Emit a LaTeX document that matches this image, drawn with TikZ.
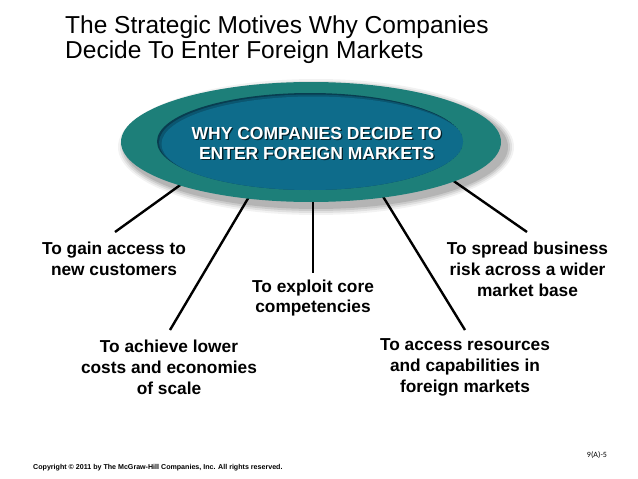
\documentclass[tikz,border=0pt]{standalone}
\usepackage{fontspec}
\setmainfont{Liberation Sans}
\newfontfamily\carl{Carlito}
\definecolor{outerteal}{HTML}{1D7F79}
\definecolor{innerblue}{HTML}{0E6C8B}
\definecolor{innerdark}{HTML}{083D50}
\tikzset{
  spoke/.style={line width=2.4pt, black},
  lbl/.style={align=center, inner sep=0pt, font=\bfseries\fontsize{17.3}{21}\selectfont},
  ttl/.style={anchor=base west, inner sep=0pt, font=\fontsize{24.5}{29}\selectfont},
  hubtxt/.style={align=center, inner sep=0pt, font=\bfseries\fontsize{17.5}{20}\selectfont}
}
\begin{document}
\begin{tikzpicture}[x=1pt,y=-1pt]
\useasboundingbox (0,0) rectangle (638,479);
\fill[white] (0,0) rectangle (638,479);

% title
\node[ttl] (t1) at (65,34) {The Strategic Motives Why Companies};
\node[ttl] (t2) at (65,58) {Decide To Enter Foreign Markets};

% labels
\node[lbl] (L1) at (114,258.5) {To gain access to\\new customers};
\node[lbl] (L2) at (169,367.5) {To achieve lower\\costs and economies\\of scale};
\node[lbl, font=\bfseries\fontsize{17.3}{20}\selectfont] (L3) at (313,298) {To exploit core\\competencies};
\node[lbl] (L4) at (465,367) {To access resources\\and capabilities in\\foreign markets};
\node[lbl] (L5) at (527.5,269) {To spread business\\risk across a wider\\market base};

% connector ends
\coordinate (s1) at (190,178);  \coordinate (e1) at (115,232);
\coordinate (s2) at (253,190);  \coordinate (e2) at (170,330);
\coordinate (s3) at (313,190);  \coordinate (e3) at (313,273);
\coordinate (s4) at (379,190);  \coordinate (e4) at (465,330);
\coordinate (s5) at (445,175);  \coordinate (e5) at (527,232);
\draw[spoke] (s1) -- (e1);
\draw[spoke] (s2) -- (e2);
\draw[spoke] (s3) -- (e3);
\draw[spoke] (s4) -- (e4);
\draw[spoke] (s5) -- (e5);

% hub shadow
\foreach \r/\o in {8/0.05,6/0.07,4/0.09,2/0.11}{
  \fill[black, opacity=\o] (316,147) ellipse [x radius=190+\r, y radius=60+\r];
}
% outer ellipse
\fill[outerteal] (311,142) ellipse [x radius=190, y radius=60];
% inner ellipse with soft inset shadow
\begin{scope}
  \clip (310,141.5) ellipse [x radius=153, y radius=48.5];
  \fill[innerdark] (310,141.5) ellipse [x radius=153, y radius=48.5];
  \fill[innerblue, opacity=0.55] (311.5,142.5) ellipse [x radius=152.5, y radius=48];
  \fill[innerblue] (313.5,144) ellipse [x radius=152, y radius=47.5];
\end{scope}
\node[hubtxt, text=black, opacity=0.7] (hubsh) at (318,144.5) {WHY COMPANIES DECIDE TO\\ENTER FOREIGN MARKETS};
\node[hubtxt, text=white] (hub) at (316.7,143) {WHY COMPANIES DECIDE TO\\ENTER FOREIGN MARKETS};

% footer
\node[anchor=base west, inner sep=0pt, font=\bfseries\fontsize{7.1}{8}\selectfont] (copy) at (33,469.5) {Copyright \textcopyright{} 2011 by The McGraw-Hill Companies, Inc. All rights reserved.};
\node[inner sep=0pt, font=\carl\fontsize{8}{9}\selectfont] (pg) at (597,455) {9(A)-5};
\end{tikzpicture}
\end{document}
